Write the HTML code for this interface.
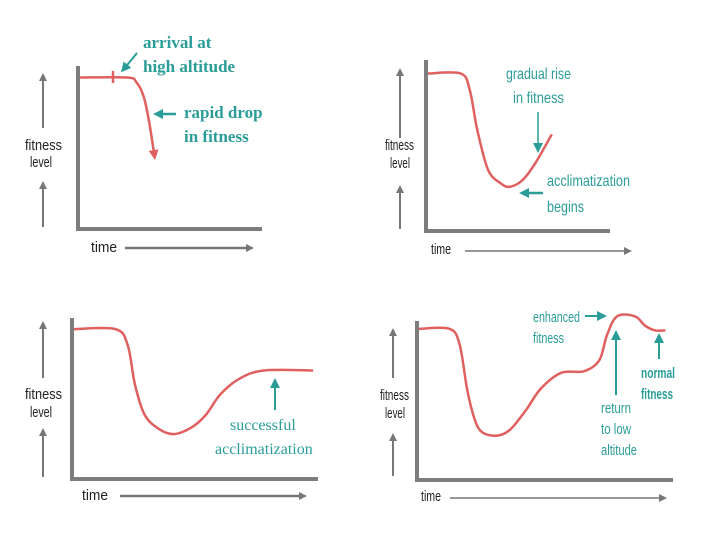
<!DOCTYPE html>
<html><head><meta charset="utf-8"><style>
html,body{margin:0;padding:0;background:#fff;}
svg{display:block;}
.lab{font-family:"Liberation Sans",sans-serif;font-size:15px;fill:#222;}
.ser{font-family:"Liberation Serif",serif;font-weight:bold;font-size:17px;fill:#2a9d98;}
.cond{font-family:"Liberation Sans",sans-serif;font-size:15px;fill:#2a9d98;}
</style></head><body>
<svg id="c" width="720" height="540" viewBox="0 0 720 540" xmlns="http://www.w3.org/2000/svg">
<defs>
<marker id="ag" markerWidth="8" markerHeight="8" refX="6" refY="4" orient="auto" markerUnits="userSpaceOnUse"><path d="M0,0 L8,4 L0,8 Z" fill="#777"/></marker>
<marker id="at" markerWidth="10" markerHeight="10" refX="7" refY="5" orient="auto" markerUnits="userSpaceOnUse"><path d="M0,0 L10,5 L0,10 Z" fill="#2a9d98"/></marker>
<marker id="ar" markerWidth="10" markerHeight="10" refX="7" refY="5" orient="auto" markerUnits="userSpaceOnUse"><path d="M0,0 L10,5 L0,10 Z" fill="#e06060"/></marker>
</defs>
<g id="static">
<text class="ser" x="143" y="48">arrival at</text>
<text class="ser" x="143" y="72">high altitude</text>
<line x1="137" y1="53" x2="123" y2="70" stroke="#2a9d98" stroke-width="2" marker-end="url(#at)"/>
<line x1="113" y1="71" x2="113" y2="83" stroke="#e06060" stroke-width="2.5"/>
<text class="ser" x="184" y="118">rapid drop</text>
<text class="ser" x="184" y="142">in fitness</text>
<line x1="176" y1="114" x2="156" y2="114" stroke="#2a9d98" stroke-width="2.5" marker-end="url(#at)"/>
<text class="cond" x="506" y="79" style="font-size:16px" textLength="65" lengthAdjust="spacingAndGlyphs">gradual rise</text>
<text class="cond" x="513" y="103" style="font-size:16px" textLength="51" lengthAdjust="spacingAndGlyphs">in fitness</text>
<line x1="538" y1="112" x2="538" y2="150" stroke="#2a9d98" stroke-width="1.5" marker-end="url(#at)"/>
<text class="cond" x="547" y="186" style="font-size:16px" textLength="83" lengthAdjust="spacingAndGlyphs">acclimatization</text>
<text class="cond" x="547" y="212" style="font-size:16px" textLength="37" lengthAdjust="spacingAndGlyphs">begins</text>
<line x1="543" y1="193" x2="522" y2="193" stroke="#2a9d98" stroke-width="2.5" marker-end="url(#at)"/>
<text class="ser" x="230" y="430" style="font-weight:normal;font-size:16px">successful</text>
<text class="ser" x="215" y="454" style="font-weight:normal;font-size:16px">acclimatization</text>
<line x1="275" y1="410" x2="275" y2="381" stroke="#2a9d98" stroke-width="2" marker-end="url(#at)"/>
<text class="cond" x="533" y="322" textLength="47" lengthAdjust="spacingAndGlyphs">enhanced</text>
<text class="cond" x="533" y="343" textLength="31" lengthAdjust="spacingAndGlyphs">fitness</text>
<line x1="585" y1="316" x2="604" y2="316" stroke="#2a9d98" stroke-width="2" marker-end="url(#at)"/>
<line x1="616" y1="395" x2="616" y2="333" stroke="#2a9d98" stroke-width="2" marker-end="url(#at)"/>
<text class="cond" x="601" y="413" textLength="30" lengthAdjust="spacingAndGlyphs">return</text>
<text class="cond" x="601" y="434" textLength="30" lengthAdjust="spacingAndGlyphs">to low</text>
<text class="cond" x="601" y="455" textLength="36" lengthAdjust="spacingAndGlyphs">altitude</text>
<line x1="659" y1="359" x2="659" y2="336" stroke="#2a9d98" stroke-width="2" marker-end="url(#at)"/>
<text class="cond" x="641" y="378" textLength="34" lengthAdjust="spacingAndGlyphs" style="font-weight:bold">normal</text>
<text class="cond" x="641" y="399" textLength="32" lengthAdjust="spacingAndGlyphs" style="font-weight:bold">fitness</text>
</g>
<g id="dyn"></g>
</svg>
<script>
// data: time (0-100) vs fitness (0-100) per panel
const p1Time = [0, 26, 31, 35, 38, 41];
const p1Fit = [94, 94, 91, 82, 66, 44];
const p2Time = [0, 18, 23, 27, 33, 40, 45, 52, 59, 68];
const p2Fit = [92, 92, 82, 59, 35, 27, 25, 29, 39, 56];
const p3Time = [0, 17, 22, 25, 29, 35, 41, 48, 54, 60, 68, 78, 98];
const p3Fit = [93, 93, 83, 58, 39, 30, 27, 31, 39, 52, 62, 67, 67];
const p4Time = [0, 12, 16, 19, 22, 25, 31, 36, 42, 48, 56, 65, 71, 74, 78, 85, 89, 93, 97];
const p4Fit = [95, 95, 85, 56, 37, 29, 27, 31, 43, 57, 67, 68, 75, 91, 103, 103, 97, 94, 94];

const panels = [
 {ox:80, oy:227, w:182, h:159, top:66, t:p1Time, f:p1Fit, yArX:43, yl1:[128,75], yl2:[227,183], labX:25, labY:[150,167], timeX:91, timeY:252, tArr:[125,252,248], lastArrow:true, tight:false},
 {ox:428, oy:229, w:182, h:169, top:60, t:p2Time, f:p2Fit, yArX:400, yl1:[138,70], yl2:[229,187], labX:385, labY:[150,168], timeX:431, timeY:254, tArr:[465,630,251], tight:true},
 {ox:74, oy:477, w:244, h:159, top:318, t:p3Time, f:p3Fit, yArX:43, yl1:[378,323], yl2:[477,430], labX:25, labY:[399,417], timeX:82, timeY:500, tArr:[120,305,496], tight:false},
 {ox:419, oy:478, w:254, h:157, top:321, t:p4Time, f:p4Fit, yArX:393, yl1:[378,330], yl2:[476,435], labX:380, labY:[400,418], timeX:421, timeY:501, tArr:[450,665,498], tight:true}
];
const NS = "http://www.w3.org/2000/svg";
const dyn = document.getElementById('dyn');
function mk(tag, attrs){const e=document.createElementNS(NS,tag);for(const k in attrs)e.setAttribute(k,attrs[k]);dyn.appendChild(e);return e;}
function smooth(pts){
  let d = "M"+pts[0][0]+","+pts[0][1];
  for(let i=0;i<pts.length-1;i++){
    const p0=pts[i-1]||pts[i], p1=pts[i], p2=pts[i+1], p3=pts[i+2]||p2;
    const c1=[p1[0]+(p2[0]-p0[0])/6, p1[1]+(p2[1]-p0[1])/6];
    const c2=[p2[0]-(p3[0]-p1[0])/6, p2[1]-(p3[1]-p1[1])/6];
    d+=" C"+c1[0]+","+c1[1]+" "+c2[0]+","+c2[1]+" "+p2[0]+","+p2[1];
  }
  return d;
}
panels.forEach((p,i)=>{
  const xs = v => p.ox + v/100*p.w;
  const ys = v => p.oy - v/100*p.h;
  const ax = mk('path',{d:`M${p.ox-2},${p.top} L${p.ox-2},${p.oy+2} L${p.ox+p.w},${p.oy+2}`,fill:'none',stroke:'#7d7d7d','stroke-width':4});
  
  
  const a1 = mk('line',{x1:p.yArX,y1:p.yl1[0],x2:p.yArX,y2:p.yl1[1],stroke:'#777','stroke-width':2,'marker-end':'url(#ag)'});
  
  
  const a2 = mk('line',{x1:p.yArX,y1:p.yl2[0],x2:p.yArX,y2:p.yl2[1],stroke:'#777','stroke-width':2,'marker-end':'url(#ag)'});
  
  
  const l1 = mk('text',{x:p.labX,y:p.labY[0],class:'lab',textLength:p.tight?29:37,lengthAdjust:'spacingAndGlyphs'});
  l1.textContent='fitness';
  
  
  const l2 = mk('text',{x:p.labX+5,y:p.labY[1],class:'lab',textLength:p.tight?20:22,lengthAdjust:'spacingAndGlyphs'});
  l2.textContent='level';
  
  
  const tl = mk('text',{x:p.timeX,y:p.timeY,class:'lab',textLength:p.tight?20:26,lengthAdjust:'spacingAndGlyphs'});
  tl.textContent='time';
  
  
  const ta = mk('line',{x1:p.tArr[0],y1:p.tArr[2],x2:p.tArr[1],y2:p.tArr[2],stroke:'#777','stroke-width':p.tight?1.5:2.5,'marker-end':'url(#ag)'});
  
  
  const pts = p.t.map((t,j)=>[xs(t),ys(p.f[j])]);
  const attrs = {d:smooth(pts),fill:'none',stroke:'#e06060','stroke-width':2.5};
  if(p.lastArrow) attrs['marker-end']='url(#ar)';
  const c = mk('path',attrs);
  
  
});
</script>
</body></html>
